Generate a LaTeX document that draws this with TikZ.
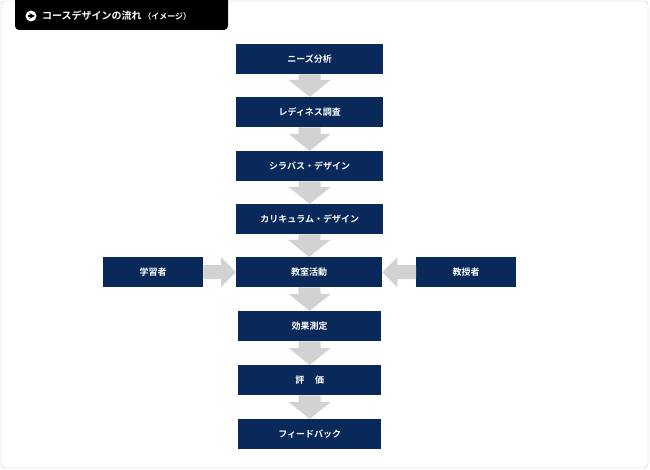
\documentclass[tikz,border=0pt]{standalone}
\usepackage{fontspec}
\newfontfamily\jp{Noto Sans CJK JP}[BoldFont={Noto Sans CJK JP Bold}]
\usetikzlibrary{calc}
\definecolor{navy}{HTML}{08295A}
\definecolor{arr}{HTML}{D2D2D2}
\tikzset{box/.style={fill=navy,text=white,font=\jp\bfseries\fontsize{9}{10}\selectfont,minimum height=30pt,inner sep=0pt,anchor=north west}}
\newcommand\gdown[2]{\fill[arr] ($(#1.south)+(-11,0)$) -- ($(#1.south)+(11,0)$) -- ($(#2.north)+(11,-17)$) -- ($(#2.north)+(21,-17)$) -- (#2.north) -- ($(#2.north)+(-21,-17)$) -- ($(#2.north)+(-11,-17)$) -- cycle;}
\newcommand\gright[2]{\fill[arr] ($(#1.east)+(0,-7)$) -- ($(#1.east)+(0,7)$) -- ($(#2.west)+(-15,7)$) -- ($(#2.west)+(-15,15)$) -- (#2.west) -- ($(#2.west)+(-15,-15)$) -- ($(#2.west)+(-15,-7)$) -- cycle;}
\newcommand\gleft[2]{\fill[arr] ($(#1.west)+(0,-7)$) -- ($(#1.west)+(0,7)$) -- ($(#2.east)+(15,7)$) -- ($(#2.east)+(15,15)$) -- (#2.east) -- ($(#2.east)+(15,-15)$) -- ($(#2.east)+(15,-7)$) -- cycle;}
\begin{document}
\begin{tikzpicture}[x=1pt,y=-1pt]
\useasboundingbox (0,0) rectangle (650,470);
\draw[color=black!22,rounded corners=4pt,fill=white] (1,1) rectangle (648,468);
\fill[black,rounded corners=4pt] (15,-5) rectangle (228,30);
\node[circle,fill=white,inner sep=0pt,minimum size=11pt] (ic) at (31,16) {};
\draw[black,line width=1.6pt,->,>={stealth}] ($(ic)+(-3.5,0)$) -- ($(ic)+(4,0)$);
\node[anchor=west,text=white,font=\jp\bfseries\fontsize{10}{11}\selectfont,inner sep=0pt] (title) at (42,16) {コースデザインの流れ\,{\fontsize{8}{9}\selectfont（イメージ）}};
\node[box,minimum width=147pt] (n1) at (236,44) {ニーズ分析};
\node[box,minimum width=147pt] (n2) at (236,97) {レディネス調査};
\node[box,minimum width=147pt] (n3) at (236,151) {シラバス・デザイン};
\node[box,minimum width=147pt] (n4) at (236,204) {カリキュラム・デザイン};
\node[box,minimum width=146pt] (n5) at (236,257) {教室活動};
\node[box,minimum width=143pt] (n6) at (238,311) {効果測定};
\node[box,minimum width=143pt] (n7) at (238,365) {評\hspace{1.2em}価};
\node[box,minimum width=143pt] (n8) at (238,419) {フィードバック};
\node[box,minimum width=100pt] (l) at (103,257) {学習者};
\node[box,minimum width=100pt] (r) at (416,257) {教授者};
\gdown{n1}{n2}\gdown{n2}{n3}\gdown{n3}{n4}\gdown{n4}{n5}\gdown{n5}{n6}\gdown{n6}{n7}\gdown{n7}{n8}
\gright{l}{n5}\gleft{r}{n5}
\end{tikzpicture}
\end{document}
